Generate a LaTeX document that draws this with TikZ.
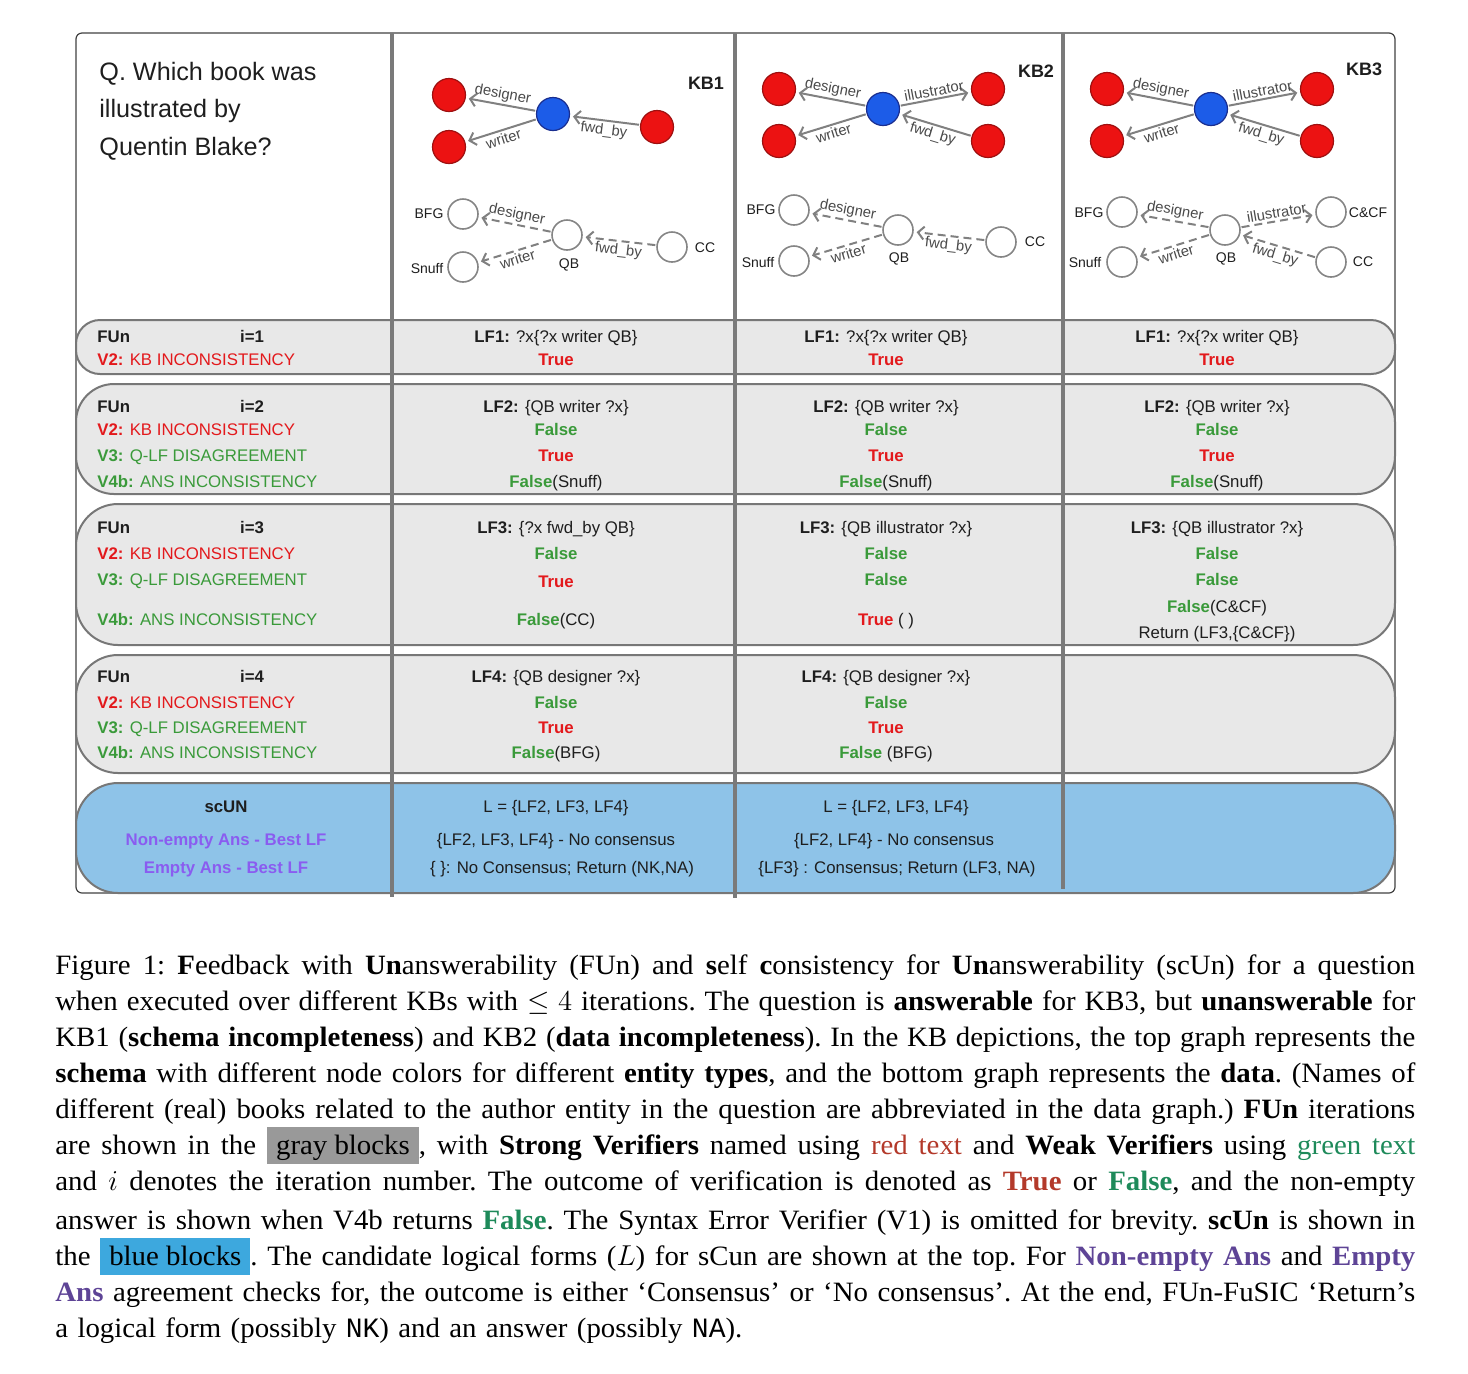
\documentclass[tikz,border=0pt]{standalone}
\usepackage{fontspec}
\setmainfont{Liberation Serif}[FakeStretch=1.03]
\setsansfont{Liberation Sans}
\setmonofont{Liberation Mono}
\usetikzlibrary{arrows.meta}
\definecolor{rowfill}{HTML}{E8E8E8}
\definecolor{rowline}{HTML}{777777}
\definecolor{blockblue}{HTML}{8EC3E8}
\definecolor{vgray}{HTML}{7A7A7A}
\definecolor{textdark}{HTML}{1E1E1E}
\definecolor{vred}{HTML}{E3191C}
\definecolor{vgreen}{HTML}{3A9A3A}
\definecolor{vpurple}{HTML}{8A5CF0}
\definecolor{nodered}{HTML}{EC1212}
\definecolor{noderedline}{HTML}{9E1010}
\definecolor{nodeblue}{HTML}{1C5CE8}
\definecolor{nodeblueline}{HTML}{1A2E8F}
\definecolor{datagray}{HTML}{858585}
\definecolor{edgegray}{HTML}{808080}
\definecolor{edgetext}{HTML}{4A4A4A}
\definecolor{capred}{HTML}{B3392A}
\definecolor{capgreen}{HTML}{1E8A5A}
\definecolor{cappurple}{HTML}{5E4496}
\definecolor{capgray}{HTML}{999999}
\definecolor{capblue}{HTML}{3DA8DE}
\newcommand\vTrue{\textbf{\textcolor{vred}{True}}}
\newcommand\vFalse{\textbf{\textcolor{vgreen}{False}}}
\newcommand\capline[1]{\hbox to 680pt{\spaceskip=3.6pt plus 12pt minus 1.2pt\relax #1}}
\newcommand\hlbox[2]{{\fboxsep=0pt\colorbox{#1}{\rule[-5pt]{0pt}{18.5pt}\hspace{4.5pt}#2\hspace{4.5pt}}}}
\tikzset{
 framestyle/.style={draw=black!75, line width=0.6pt},
 rowbox/.style={draw=rowline, fill=rowfill, line width=1pt},
 bluebox/.style={draw=rowline, fill=blockblue, line width=1pt},
 vline/.style={draw=vgray, line width=1.6pt},
 ctext/.style={font=\sffamily\fontsize{8.4}{10}\selectfont, anchor=base, inner sep=0pt, text=textdark},
 ltext/.style={ctext, anchor=base west},
 qtext/.style={font=\sffamily\fontsize{12.6}{15}\selectfont, anchor=base west, inner sep=0pt, text=textdark},
 kblab/.style={font=\sffamily\bfseries\fontsize{9}{10}\selectfont, anchor=base, inner sep=0pt, text=textdark},
 schemared/.style={circle, fill=nodered, draw=noderedline, line width=0.6pt, minimum size=16.5pt, inner sep=0pt},
 schemablue/.style={circle, fill=nodeblue, draw=nodeblueline, line width=0.6pt, minimum size=16.5pt, inner sep=0pt},
 datanode/.style={circle, fill=white, draw=datagray, line width=0.8pt, minimum size=15pt, inner sep=0pt},
 nlab/.style={font=\sffamily\fontsize{7}{8}\selectfont, inner sep=0pt, text=textdark},
 sedge/.style={draw=edgegray, line width=1pt, -{Straight Barb[length=3pt,width=6.5pt]}, shorten >=1.5pt, shorten <=0.5pt},
 dedge/.style={sedge, dash pattern=on 4pt off 2.5pt},
 elab/.style={font=\sffamily\fontsize{7.4}{8}\selectfont, text=edgetext, inner sep=1pt, sloped, midway},
}
\begin{document}
\begin{tikzpicture}[x=0.5pt,y=-0.5pt]
\useasboundingbox (0,0) rectangle (1468,1373);
% frame
\draw[framestyle, rounded corners=3pt] (76,33) rectangle (1395,893);
% rows
\draw[rowbox, rounded corners=12pt] (76,320) rectangle (1395,374);
\draw[rowbox, rounded corners=19pt] (76,384) rectangle (1395,494);
\draw[rowbox, rounded corners=21pt] (76,504) rectangle (1395,645);
\draw[rowbox, rounded corners=21pt] (76,655) rectangle (1395,773);
\draw[bluebox, rounded corners=21pt] (76,783) rectangle (1395,893);
% vertical dividers
\draw[vline] (392,33) -- (392,897);
\draw[vline] (735,33) -- (735,898);
\draw[vline] (1063,33) -- (1063,889);
% question
\node[qtext] (q1) at (99,80) {Q. Which book was};
\node[qtext] (q2) at (99,117) {illustrated by};
\node[qtext] (q3) at (99,155) {Quentin Blake?};
% KB labels
\node[kblab] (kb1) at (706,89) {KB1};
\node[kblab] (kb2) at (1036,77) {KB2};
\node[kblab] (kb3) at (1364,75) {KB3};
% ---------- KB1 schema
\node[schemared] (k1a) at (449,95) {};
\node[schemared] (k1b) at (449,147) {};
\node[schemablue] (k1q) at (553,114) {};
\node[schemared] (k1c) at (657,127) {};
\draw[sedge] (k1q) -- node[elab, above] {designer} (k1a);
\draw[sedge] (k1q) -- node[elab, below] {writer} (k1b);
\draw[sedge] (k1c) -- node[elab, below] {fwd\_by} (k1q);
% KB1 data
\node[datanode] (d1bfg) at (463,214) {};
\node[datanode] (d1snuff) at (463,267) {};
\node[datanode] (d1qb) at (567,235) {};
\node[datanode] (d1cc) at (672,247) {};
\node[nlab] (l1bfg) at (429,214) {BFG};
\node[nlab] (l1snuff) at (427,268) {Snuff};
\node[nlab] (l1qb) at (569,265) {QB};
\node[nlab] (l1cc) at (705,248) {CC};
\draw[dedge] (d1qb) -- node[elab, above] {designer} (d1bfg);
\draw[dedge] (d1qb) -- node[elab, below] {writer} (d1snuff);
\draw[dedge] (d1cc) -- node[elab, below] {fwd\_by} (d1qb);
% ---------- KB2 schema
\node[schemared] (k2a) at (779,89) {};
\node[schemared] (k2b) at (779,141) {};
\node[schemablue] (k2q) at (883,109) {};
\node[schemared] (k2d) at (988,89) {};
\node[schemared] (k2e) at (988,141) {};
\draw[sedge] (k2q) -- node[elab, above] {designer} (k2a);
\draw[sedge] (k2q) -- node[elab, below] {writer} (k2b);
\draw[sedge] (k2q) -- node[elab, above] {illustrator} (k2d);
\draw[sedge] (k2e) -- node[elab, below] {fwd\_by} (k2q);
% KB2 data
\node[datanode] (d2bfg) at (794,210) {};
\node[datanode] (d2snuff) at (794,261) {};
\node[datanode] (d2qb) at (898,230) {};
\node[datanode] (d2cc) at (1001,242) {};
\node[nlab] (l2bfg) at (761,210) {BFG};
\node[nlab] (l2snuff) at (758,262) {Snuff};
\node[nlab] (l2qb) at (899,259) {QB};
\node[nlab] (l2cc) at (1035,242) {CC};
\draw[dedge] (d2qb) -- node[elab, above] {designer} (d2bfg);
\draw[dedge] (d2qb) -- node[elab, below] {writer} (d2snuff);
\draw[dedge] (d2cc) -- node[elab, below] {fwd\_by} (d2qb);
% ---------- KB3 schema
\node[schemared] (k3a) at (1107,89) {};
\node[schemared] (k3b) at (1107,141) {};
\node[schemablue] (k3q) at (1211,109) {};
\node[schemared] (k3d) at (1317,89) {};
\node[schemared] (k3e) at (1317,141) {};
\draw[sedge] (k3q) -- node[elab, above] {designer} (k3a);
\draw[sedge] (k3q) -- node[elab, below] {writer} (k3b);
\draw[sedge] (k3q) -- node[elab, above] {illustrator} (k3d);
\draw[sedge] (k3e) -- node[elab, below] {fwd\_by} (k3q);
% KB3 data
\node[datanode] (d3bfg) at (1122,212) {};
\node[datanode] (d3snuff) at (1122,262) {};
\node[datanode] (d3qb) at (1225,230) {};
\node[datanode] (d3ccf) at (1331,212) {};
\node[datanode] (d3cc) at (1331,262) {};
\node[nlab] (l3bfg) at (1089,213) {BFG};
\node[nlab] (l3snuff) at (1085,262) {Snuff};
\node[nlab] (l3qb) at (1226,259) {QB};
\node[nlab] (l3ccf) at (1368,213) {C\&CF};
\node[nlab] (l3cc) at (1363,262) {CC};
\draw[dedge] (d3qb) -- node[elab, above] {designer} (d3bfg);
\draw[dedge] (d3qb) -- node[elab, below] {writer} (d3snuff);
\draw[dedge] (d3qb) -- node[elab, above] {illustrator} (d3ccf);
\draw[dedge] (d3cc) -- node[elab, below] {fwd\_by} (d3qb);
% ---------- left column
\node[ltext] (r1fun) at (97,342) {\textbf{FUn}};
\node[ctext] (r1i) at (252,342) {\textbf{i=1}};
\node[ltext] (r1v2) at (97,365) {\textcolor{vred}{\textbf{V2:} KB INCONSISTENCY}};
\node[ltext] (r2fun) at (97,412) {\textbf{FUn}};
\node[ctext] (r2i) at (252,412) {\textbf{i=2}};
\node[ltext] (r2v2) at (97,435) {\textcolor{vred}{\textbf{V2:} KB INCONSISTENCY}};
\node[ltext] (r2v3) at (97,461) {\textcolor{vgreen}{\textbf{V3:} Q-LF DISAGREEMENT}};
\node[ltext] (r2v4) at (97,487) {\textcolor{vgreen}{\textbf{V4b:} ANS INCONSISTENCY}};
\node[ltext] (r3fun) at (97,533) {\textbf{FUn}};
\node[ctext] (r3i) at (252,533) {\textbf{i=3}};
\node[ltext] (r3v2) at (97,559) {\textcolor{vred}{\textbf{V2:} KB INCONSISTENCY}};
\node[ltext] (r3v3) at (97,585) {\textcolor{vgreen}{\textbf{V3:} Q-LF DISAGREEMENT}};
\node[ltext] (r3v4) at (97,625) {\textcolor{vgreen}{\textbf{V4b:} ANS INCONSISTENCY}};
\node[ltext] (r4fun) at (97,682) {\textbf{FUn}};
\node[ctext] (r4i) at (252,682) {\textbf{i=4}};
\node[ltext] (r4v2) at (97,708) {\textcolor{vred}{\textbf{V2:} KB INCONSISTENCY}};
\node[ltext] (r4v3) at (97,733) {\textcolor{vgreen}{\textbf{V3:} Q-LF DISAGREEMENT}};
\node[ltext] (r4v4) at (97,758) {\textcolor{vgreen}{\textbf{V4b:} ANS INCONSISTENCY}};
\node[ctext] (r5sc) at (226,812) {\textbf{scUN}};
\node[ctext] (r5ne) at (226,845) {\textcolor{vpurple}{\textbf{Non-empty Ans - Best LF}}};
\node[ctext] (r5e) at (226,873) {\textcolor{vpurple}{\textbf{Empty Ans - Best LF}}};
% ---------- column KB1
\node[ctext] (a11) at (556,342) {\textbf{LF1:} ?x\{?x writer QB\}};
\node[ctext] (a12) at (556,365) {\vTrue};
\node[ctext] (a21) at (556,412) {\textbf{LF2:} \{QB writer ?x\}};
\node[ctext] (a22) at (556,435) {\vFalse};
\node[ctext] (a23) at (556,461) {\vTrue};
\node[ctext] (a24) at (556,487) {\vFalse(Snuff)};
\node[ctext] (a31) at (556,533) {\textbf{LF3:} \{?x fwd\_by QB\}};
\node[ctext] (a32) at (556,559) {\vFalse};
\node[ctext] (a33) at (556,587) {\vTrue};
\node[ctext] (a34) at (556,625) {\vFalse(CC)};
\node[ctext] (a41) at (556,682) {\textbf{LF4:} \{QB designer ?x\}};
\node[ctext] (a42) at (556,708) {\vFalse};
\node[ctext] (a43) at (556,733) {\vTrue};
\node[ctext] (a44) at (556,758) {\vFalse(BFG)};
\node[ctext] (a51) at (556,812) {L = \{LF2, LF3, LF4\}};
\node[ctext] (a52) at (556,845) {\{LF2, LF3, LF4\} - No consensus};
\node[ctext] (a53) at (562,873) {\{ \}: No Consensus; Return (NK,NA)};
% ---------- column KB2
\node[ctext] (b11) at (886,342) {\textbf{LF1:} ?x\{?x writer QB\}};
\node[ctext] (b12) at (886,365) {\vTrue};
\node[ctext] (b21) at (886,412) {\textbf{LF2:} \{QB writer ?x\}};
\node[ctext] (b22) at (886,435) {\vFalse};
\node[ctext] (b23) at (886,461) {\vTrue};
\node[ctext] (b24) at (886,487) {\vFalse(Snuff)};
\node[ctext] (b31) at (886,533) {\textbf{LF3:} \{QB illustrator ?x\}};
\node[ctext] (b32) at (886,559) {\vFalse};
\node[ctext] (b33) at (886,585) {\vFalse};
\node[ctext] (b34) at (886,625) {\vTrue\ ( )};
\node[ctext] (b41) at (886,682) {\textbf{LF4:} \{QB designer ?x\}};
\node[ctext] (b42) at (886,708) {\vFalse};
\node[ctext] (b43) at (886,733) {\vTrue};
\node[ctext] (b44) at (886,758) {\vFalse\ (BFG)};
\node[ctext] (b51) at (896,812) {L = \{LF2, LF3, LF4\}};
\node[ctext] (b52) at (894,845) {\{LF2, LF4\} - No consensus};
\node[ctext] (b53) at (897,873) {\{LF3\} : Consensus; Return (LF3, NA)};
% ---------- column KB3
\node[ctext] (c11) at (1217,342) {\textbf{LF1:} ?x\{?x writer QB\}};
\node[ctext] (c12) at (1217,365) {\vTrue};
\node[ctext] (c21) at (1217,412) {\textbf{LF2:} \{QB writer ?x\}};
\node[ctext] (c22) at (1217,435) {\vFalse};
\node[ctext] (c23) at (1217,461) {\vTrue};
\node[ctext] (c24) at (1217,487) {\vFalse(Snuff)};
\node[ctext] (c31) at (1217,533) {\textbf{LF3:} \{QB illustrator ?x\}};
\node[ctext] (c32) at (1217,559) {\vFalse};
\node[ctext] (c33) at (1217,585) {\vFalse};
\node[ctext] (c34) at (1217,612) {\vFalse(C\&CF)};
\node[ctext] (c35) at (1217,638) {Return (LF3,\{C\&CF\})};
% ---------- caption
\node[anchor=north west, inner sep=0pt, text width=680pt, font=\fontsize{14}{18}\selectfont] (caption) at (55,954) {%
\frenchspacing\baselineskip=18pt\lineskiplimit=-20pt\lineskip=0pt
\capline{Figure 1: \textbf{F}eedback with \textbf{Un}answerability (FUn) and \textbf{s}elf \textbf{c}onsistency for \textbf{Un}answerability (scUn) for a question}
\capline{when executed over different KBs with $\leq 4$ iterations. The question is \textbf{answerable} for KB3, but \textbf{unanswerable} for}
\capline{KB1 (\textbf{schema incompleteness}) and KB2 (\textbf{data incompleteness}). In the KB depictions, the top graph represents the}
\capline{\textbf{schema} with different node colors for different \textbf{entity types}, and the bottom graph represents the \textbf{data}. (Names of}
\capline{different (real) books related to the author entity in the question are abbreviated in the data graph.) \textbf{FUn} iterations}
\capline{are shown in the \hlbox{capgray}{gray blocks}, with \textbf{Strong Verifiers} named using \textcolor{capred}{red text} and \textbf{Weak Verifiers} using \textcolor{capgreen}{green text}}
\vspace{1.5pt}
\capline{and $i$ denotes the iteration number. The outcome of verification is denoted as \textbf{\textcolor{capred}{True}} or \textbf{\textcolor{capgreen}{False}}, and the non-empty}
\capline{answer is shown when V4b returns \textbf{\textcolor{capgreen}{False}}. The Syntax Error Verifier (V1) is omitted for brevity. \textbf{scUn} is shown in}
\capline{the \hlbox{capblue}{blue blocks}. The candidate logical forms ($L$) for sCun are shown at the top. For \textbf{\textcolor{cappurple}{Non-empty Ans}} and \textbf{\textcolor{cappurple}{Empty}}}
\capline{\textbf{\textcolor{cappurple}{Ans}} agreement checks for, the outcome is either `Consensus' or `No consensus'. At the end, FUn-FuSIC `Return's}
\hbox{a logical form (possibly \texttt{NK}) and an answer (possibly \texttt{NA}).}
};
\end{tikzpicture}
\end{document}
